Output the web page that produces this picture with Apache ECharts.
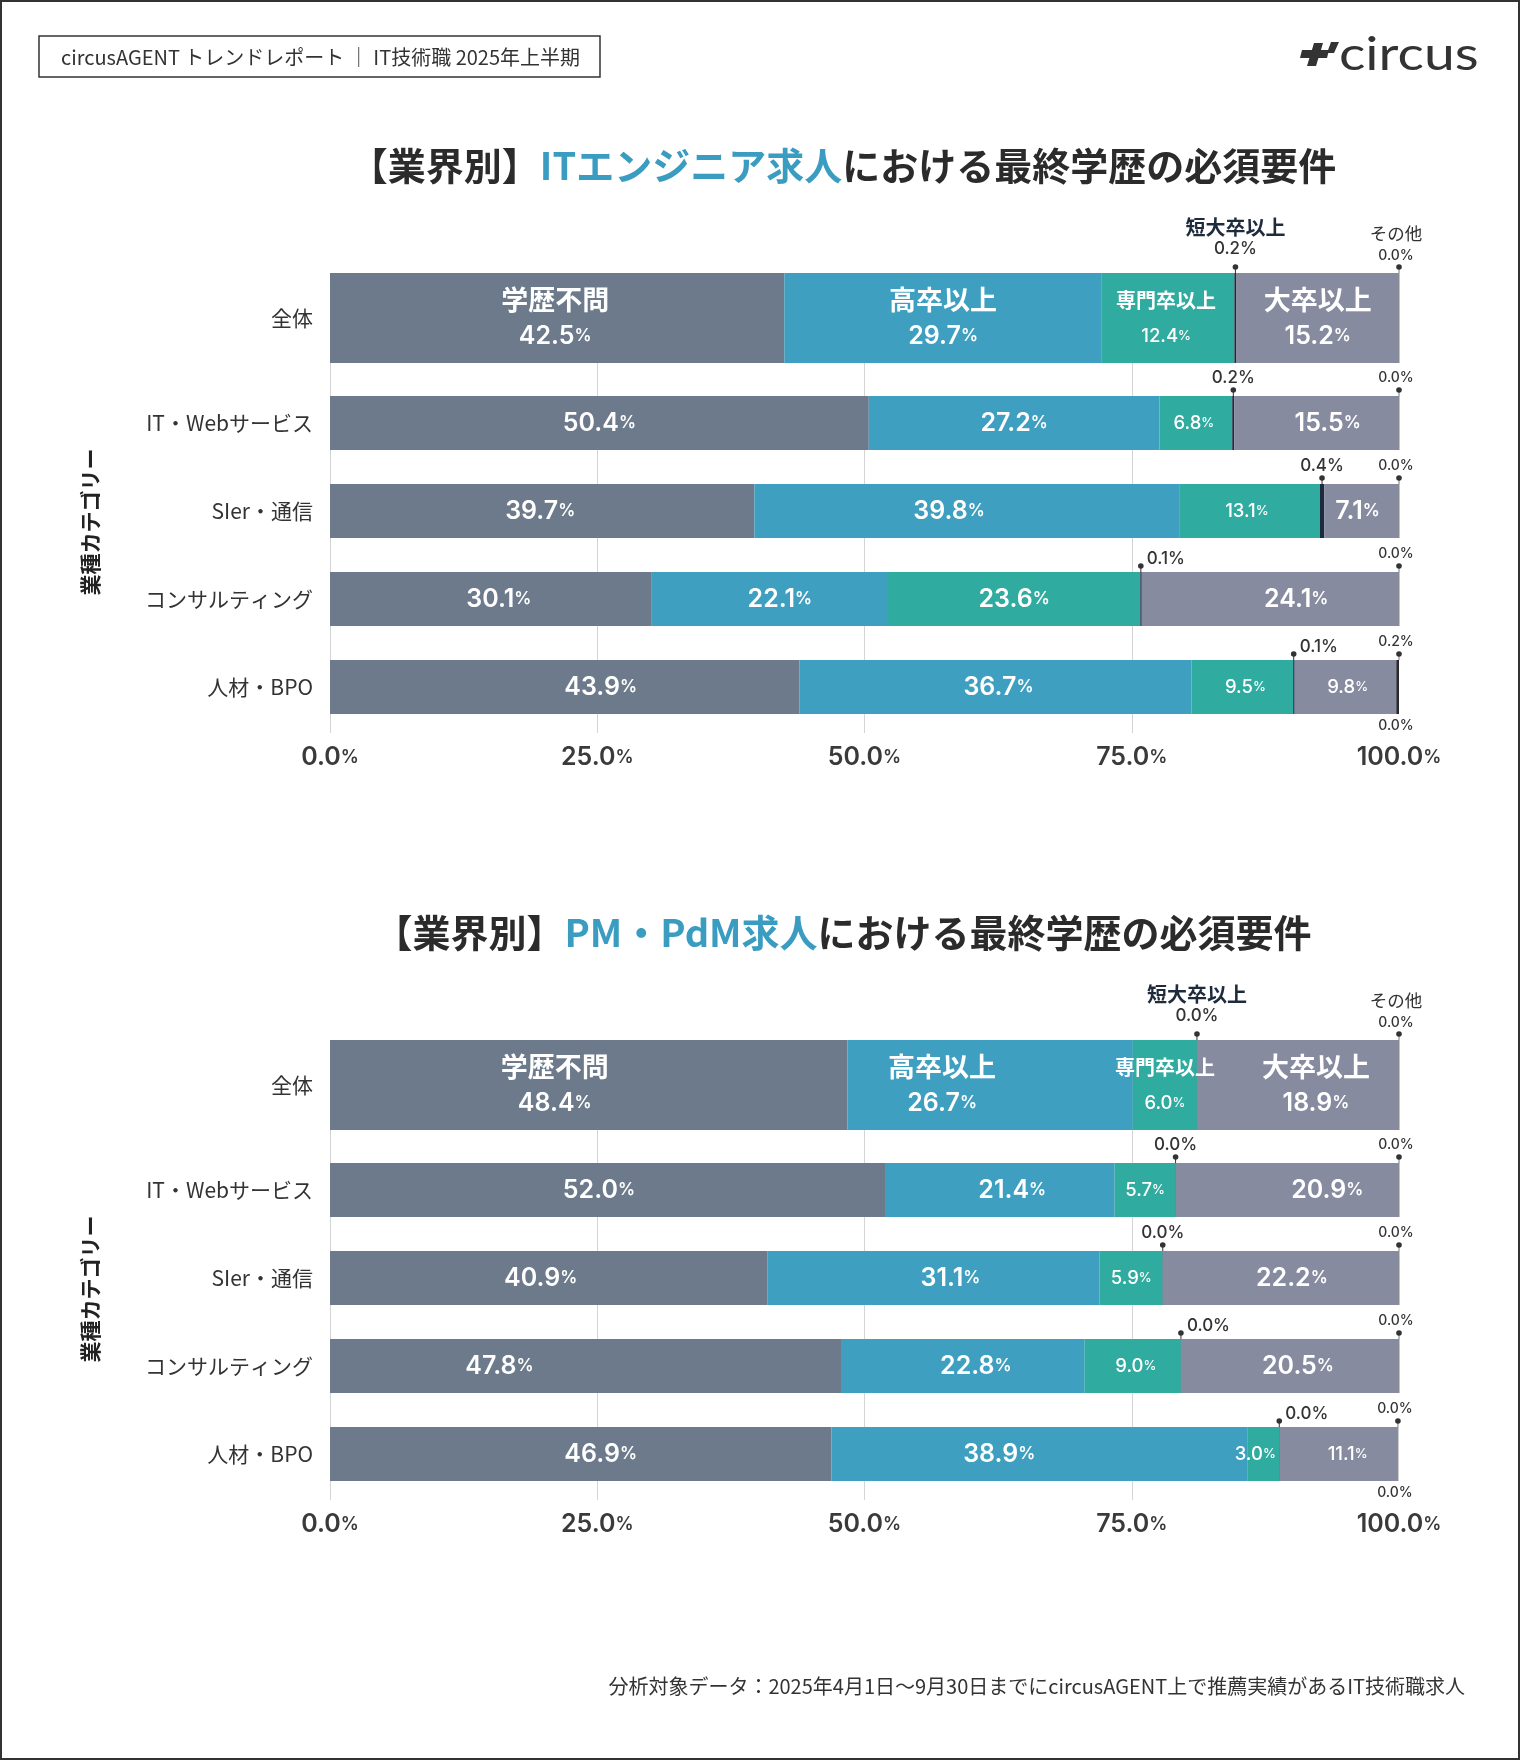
<!DOCTYPE html>
<html><head><meta charset="utf-8">
<script src="https://cdn.jsdelivr.net/npm/echarts@6/dist/echarts.min.js"></script>
<style>html,body{margin:0;padding:0;background:#fff}#c{width:1520px;height:1760px}</style>
</head><body><div id="c"></div>
<script>
// ---------- data ----------
const categories = ['全体', 'IT・Webサービス', 'SIer・通信', 'コンサルティング', '人材・BPO'];
const levels = ['学歴不問', '高卒以上', '専門卒以上', '短大卒以上', '大卒以上', 'その他'];
const ticks = [0, 25, 50, 75, 100];

// ITエンジニア求人
const it_none   = [42.5, 50.4, 39.7, 30.1, 43.9];
const it_high   = [29.7, 27.2, 39.8, 22.1, 36.7];
const it_voc    = [12.4, 6.8, 13.1, 23.6, 9.5];
const it_junior = [0.2, 0.2, 0.4, 0.1, 0.1];
const it_univ   = [15.2, 15.5, 7.1, 24.1, 9.8];
const it_other  = [0.0, 0.0, 0.0, 0.0, 0.2];
const it_tail   = 0.0;

// PM・PdM求人
const pm_none   = [48.4, 52.0, 40.9, 47.8, 46.9];
const pm_high   = [26.7, 21.4, 31.1, 22.8, 38.9];
const pm_voc    = [6.0, 5.7, 5.9, 9.0, 3.0];
const pm_junior = [0.0, 0.0, 0.0, 0.0, 0.0];
const pm_univ   = [18.9, 20.9, 22.2, 20.5, 11.1];
const pm_other  = [0.0, 0.0, 0.0, 0.0, 0.0];
const pm_tail   = 0.0;

const title1 = ['【業界別】', 'ITエンジニア求人', 'における最終学歴の必須要件'];
const title2 = ['【業界別】', 'PM・PdM求人', 'における最終学歴の必須要件'];
const headerText = 'circusAGENT トレンドレポート ｜ IT技術職 2025年上半期';
const axisName = '業種カテゴリー';
const footerText = '分析対象データ：2025年4月1日〜9月30日までにcircusAGENT上で推薦実績があるIT技術職求人';

// ---------- style ----------
const COLORS = ['#6c7a8b', '#3e9fc0', '#30ab9f', '#1e2a3f', '#878ba0', '#333333'];
const CJK = "'Noto Sans CJK JP', sans-serif";
const NUM = "Inter, 'Noto Sans CJK JP', sans-serif";
const PLOT_L = 330, PLOT_W = 1069;
const TOTAL_H = 90, ROW_H = 54, ROW_PITCH = 88;
const fmt = v => v.toFixed(1);
const isSmall = (si, row, v) => (si === 2 && v < 20) || (si === 4 && row === 4);
// horizontal label nudges in px (style only): [row][level]
const nudgeIT = [
  [-2, 0, -2, 0, 0, 0],
  [0, 0, -2, 0, 11, 0],
  [-2, -18, -3, 0, -4, 0],
  [8, 10, 0, 0, 26, 0],
  [36, 3, 3, 0, 1, 0]
];
const nudgePM = [
  [-34, -48, 0, 0, 18, 0],
  [-9, 12, 0, 0, 40, 0],
  [-8, 17, 0, 0, 11, 0],
  [-86, 13, 3, 0, 8, 0],
  [20, -40, -8, 0, 9, 0]
];

const chartDefs = [
  { top: 273, titleY: 166, title: title1, cols: [it_none, it_high, it_voc, it_junior, it_univ, it_other], tail: it_tail, nudge: nudgeIT },
  { top: 1040, titleY: 933, title: title2, cols: [pm_none, pm_high, pm_voc, pm_junior, pm_univ, pm_other], tail: pm_tail, nudge: nudgePM }
];

const grid = [], xAxis = [], yAxis = [], series = [], graphic = [];

const wRich = {
  n:  { fontSize: 27, fontWeight: 'bold', color: '#fff', fontFamily: CJK, lineHeight: 36 },
  v:  { fontSize: 25, fontWeight: 600, color: '#fff', fontFamily: NUM, lineHeight: 36 },
  p:  { fontSize: 17, fontWeight: 600, color: '#fff', fontFamily: NUM, lineHeight: 36 },
  ns: { fontSize: 20, fontWeight: 'bold', color: '#fff', fontFamily: CJK, lineHeight: 36 },
  vs: { fontSize: 18.5, fontWeight: 500, color: '#fff', fontFamily: NUM, lineHeight: 36 },
  ps: { fontSize: 13, fontWeight: 500, color: '#fff', fontFamily: NUM, lineHeight: 36 }
};

function annotSeries(axisIdx, rows, barH, cols, tail, isTotalGrid) {
  const data = [], meta = [];
  rows.forEach((r, li) => {
    const cum3 = cols[0][r] + cols[1][r] + cols[2][r];
    data.push([cum3 + cols[3][r] / 2, li, 0]);
    meta.push({ kind: 0, r, v: cols[3][r] });
    const cum6 = cum3 + cols[3][r] + cols[4][r] + cols[5][r];
    data.push([Math.min(100, cum6), li, 1]);
    meta.push({ kind: 1, r, v: cols[5][r] });
    if (tail !== undefined && li === rows.length - 1) {
      data.push([Math.min(100, cum6), li, 2]);
      meta.push({ kind: 2, r, v: tail });
    }
  });
  const txt = (x, y, text, size, color, weight, align, family) => ({
    type: 'text',
    style: { text, x, y, fill: color, fontSize: size, fontFamily: family || NUM,
      fontWeight: weight || 500, align: align || 'center', textAlign: align || 'center',
      verticalAlign: 'middle', textVerticalAlign: 'middle' }
  });
  return {
    type: 'custom', xAxisIndex: axisIdx, yAxisIndex: axisIdx, z: 10, silent: true,
    dimensions: ['x', 'y', 'k'], encode: { x: 0, y: 1 },
    data,
    renderItem(params, api) {
      const m = meta[params.dataIndex];
      const x = api.value(0), li = api.value(1);
      const p = api.coord([x, li]);
      const top = p[1] - barH / 2, bot = p[1] + barH / 2;
      const dotY = top - 6;
      const ch = [];
      const dark = '#333';
      if (m.kind === 0) {
        ch.push({ type: 'line', shape: { x1: p[0], y1: dotY, x2: p[0], y2: top }, style: { stroke: dark, lineWidth: 1 } });
        ch.push({ type: 'circle', shape: { cx: p[0], cy: dotY, r: 2.8 }, style: { fill: dark } });
        if (isTotalGrid) {
          ch.push(txt(p[0], top - 46, levels[3], 20, '#1e2b3c', 'bold', 'center', CJK));
          ch.push(txt(p[0], top - 24, fmt(m.v) + '%', 17, '#333', 500));
        } else if (m.r >= 3) {
          ch.push(txt(p[0] + 6, top - 13, fmt(m.v) + '%', 17, '#333', 500, 'left'));
        } else {
          ch.push(txt(p[0], top - 18, fmt(m.v) + '%', 17, '#333', 500));
        }
      } else if (m.kind === 1) {
        const px = Math.abs(api.coord([x, li])[0] - api.coord([x - m.v, li])[0]);
        ch.push({ type: 'line', shape: { x1: p[0], y1: dotY, x2: p[0], y2: top }, style: { stroke: '#777', lineWidth: 1 } });
        if (m.v > 0) {
          const w = Math.max(2.5, px);
          ch.push({ type: 'rect', shape: { x: p[0] - w, y: top, width: w, height: barH }, style: { fill: '#2a2a2a' } });
        } else {
          ch.push({ type: 'line', shape: { x1: p[0], y1: top, x2: p[0], y2: bot }, style: { stroke: '#8a8a8a', lineWidth: 1 } });
        }
        ch.push({ type: 'circle', shape: { cx: p[0], cy: dotY, r: 2.8 }, style: { fill: dark } });
        if (isTotalGrid) {
          ch.push(txt(p[0] - 3, top - 40, levels[5], 17.5, '#333', 400, 'center', CJK));
          ch.push(txt(p[0] - 3, top - 17, fmt(m.v) + '%', 14, '#333', 500));
        } else {
          ch.push(txt(p[0] - 3, top - 18, fmt(m.v) + '%', 14, '#333', 500));
        }
      } else {
        ch.push(txt(p[0] - 3, bot + 12, fmt(m.v) + '%', 14, '#333', 500));
      }
      return { type: 'group', children: ch };
    }
  };
}

chartDefs.forEach((cd, ci) => {
  const T = cd.top;
  const gG = ci * 3, gA = ci * 3 + 1, gB = ci * 3 + 2;
  grid.push({ left: PLOT_L, width: PLOT_W, top: T, height: 460 });
  grid.push({ left: PLOT_L, width: PLOT_W, top: T, height: TOTAL_H });
  grid.push({ left: PLOT_L, width: PLOT_W, top: T + 106, height: ROW_PITCH * 4 });

  xAxis.push({
    gridIndex: gG, type: 'value', min: ticks[0], max: ticks[ticks.length - 1], interval: ticks[1] - ticks[0],
    axisLine: { show: false }, axisTick: { show: false },
    splitLine: { show: true, showMaxLine: false, lineStyle: { color: '#d4d4d4', width: 1 } },
    axisLabel: {
      margin: 12,
      formatter: v => `{v|${fmt(v)}}{p|%}`,
      rich: {
        v: { fontSize: 25, fontWeight: 600, color: '#3a3a3a', fontFamily: NUM },
        p: { fontSize: 18, fontWeight: 600, color: '#3a3a3a', fontFamily: NUM }
      }
    }
  });
  xAxis.push({ gridIndex: gA, type: 'value', min: 0, max: 100, show: false });
  xAxis.push({ gridIndex: gB, type: 'value', min: 0, max: 100, show: false });

  const catAxis = (data, pad) => ({
    type: 'category', data, inverse: true,
    axisLine: { show: false }, axisTick: { show: false }, splitLine: { show: false },
    axisLabel: { margin: 17, fontSize: 21, color: '#333', fontFamily: CJK, padding: pad }
  });
  yAxis.push({ gridIndex: gG, type: 'value', show: false });
  yAxis.push(Object.assign({ gridIndex: gA }, catAxis(categories.slice(0, 1), [9, 0, 0, 0])));
  yAxis.push(Object.assign({ gridIndex: gB }, catAxis(categories.slice(1), [0, 0, 0, 0])));

  // total row bars
  cd.cols.forEach((arr, si) => {
    series.push({
      type: 'bar', name: levels[si], stack: 'A' + ci, xAxisIndex: gA, yAxisIndex: gA,
      barWidth: TOTAL_H, barMinHeight: si === 3 ? 2 : 0,
      itemStyle: { color: COLORS[si] },
      data: [arr[0]],
      label: {
        show: si !== 3 && si !== 5, position: 'inside', offset: [cd.nudge[0][si], 0],
        formatter: p => si === 2
          ? `{ns|${levels[si]}}\n{vs|${fmt(p.value)}}{ps|%}`
          : `{n|${levels[si]}}\n{v|${fmt(p.value)}}{p|%}`,
        rich: wRich
      }
    });
  });
  // other rows
  cd.cols.forEach((arr, si) => {
    series.push({
      type: 'bar', name: levels[si], stack: 'B' + ci, xAxisIndex: gB, yAxisIndex: gB,
      barWidth: ROW_H, barMinHeight: si === 3 ? 2 : 0,
      itemStyle: { color: COLORS[si] },
      data: arr.slice(1).map((v, i) => ({ value: v, label: { offset: [cd.nudge[i + 1][si], 0] } })),
      label: {
        show: si !== 3 && si !== 5, position: 'inside',
        formatter: p => isSmall(si, p.dataIndex + 1, p.value)
          ? `{vs|${fmt(p.value)}}{ps|%}`
          : `{v|${fmt(p.value)}}{p|%}`,
        rich: wRich
      }
    });
  });
  series.push(annotSeries(gA, [0], TOTAL_H, cd.cols, undefined, true));
  series.push(annotSeries(gB, [1, 2, 3, 4], ROW_H, cd.cols, cd.tail, false));

  // title
  graphic.push({
    type: 'text', x: 843, y: cd.titleY,
    style: {
      text: `{a|${cd.title[0]}}{b|${cd.title[1]}}{a|${cd.title[2]}}`,
      align: 'center', verticalAlign: 'middle', textAlign: 'center', textVerticalAlign: 'middle',
      rich: {
        a: { fontSize: 38, fontWeight: 'bold', fill: '#2b2b2b', color: '#2b2b2b', fontFamily: CJK },
        b: { fontSize: 38, fontWeight: 'bold', fill: '#3a9cc0', color: '#3a9cc0', fontFamily: CJK }
      }
    }
  });
  // y axis name
  graphic.push({
    type: 'text', x: 90, y: T + 249, rotation: Math.PI / 2,
    style: { text: axisName, fontSize: 21, fontWeight: 'bold', fill: '#222', fontFamily: CJK,
      align: 'center', verticalAlign: 'middle', textAlign: 'center', textVerticalAlign: 'middle' }
  });
});

// frame, header, logo, footer
graphic.push({ type: 'rect', shape: { x: 1, y: 1, width: 1518, height: 1758 }, style: { fill: 'none', stroke: '#333', lineWidth: 2 } });
graphic.push({ type: 'rect', shape: { x: 39, y: 36, width: 561, height: 41 }, style: { fill: 'none', stroke: '#333', lineWidth: 1.5 } });
graphic.push({ type: 'text', x: 61, y: 57, style: { text: headerText, fontSize: 20, fill: '#333', fontFamily: CJK,
  align: 'left', verticalAlign: 'middle', textAlign: 'left', textVerticalAlign: 'middle' } });
graphic.push({ type: 'polygon', shape: { points: [[1314, 43], [1323, 43], [1316, 66], [1307, 66]] }, style: { fill: '#333' } });
graphic.push({ type: 'polygon', shape: { points: [[1302, 50], [1329, 50], [1327, 58], [1300, 58]] }, style: { fill: '#333' } });
graphic.push({ type: 'polygon', shape: { points: [[1331, 42], [1339, 42], [1334, 53], [1327, 53]] }, style: { fill: '#333' } });
graphic.push({ type: 'text', x: 1339, y: 55, scaleX: 1.2, style: { text: 'circus', fontSize: 46, fill: '#333', fontFamily: 'Lato, sans-serif',
  align: 'left', verticalAlign: 'middle', textAlign: 'left', textVerticalAlign: 'middle' } });
graphic.push({ type: 'text', x: 1465, y: 1686, style: { text: footerText, fontSize: 20, fill: '#333', fontFamily: CJK,
  align: 'right', verticalAlign: 'middle', textAlign: 'right', textVerticalAlign: 'middle' } });

const chart = echarts.init(document.getElementById('c'), null, { renderer: 'canvas', width: 1520, height: 1760 });
chart.setOption({ backgroundColor: '#fff', animation: false, grid, xAxis, yAxis, series, graphic });
</script>
</body></html>
